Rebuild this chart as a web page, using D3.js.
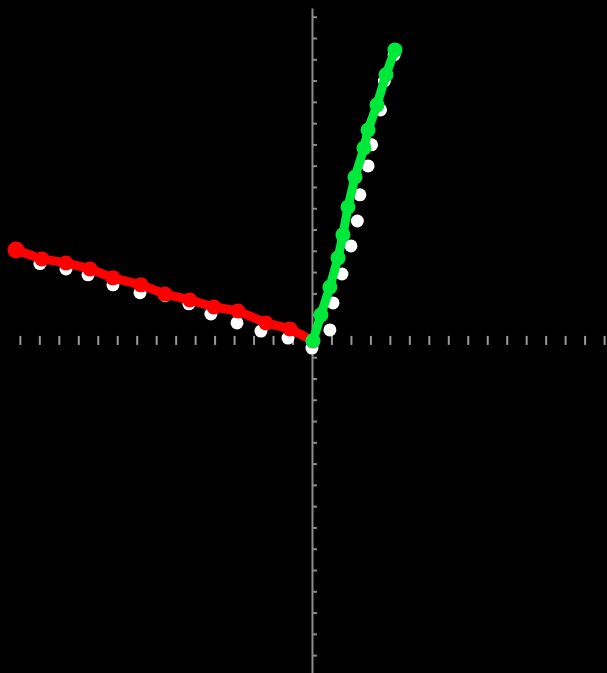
<!DOCTYPE html>
<html>
<head>
<meta charset="utf-8">
<script src="https://cdn.jsdelivr.net/npm/d3@7"></script>
<style>
    html, body { margin: 0; padding: 0; background: #000; }
    svg { display: block; }
</style>
</head>
<body>
<svg id="chart"></svg>
<script>
// красная серия (маркеры + линия)
let redX = [-15.20, -13.87, -12.63, -11.40, -10.22, -8.78, -7.55, -6.27, -5.03, -3.80, -2.36, -1.13, 0.05];
let redY = [4.04, 3.62, 3.43, 3.15, 2.73, 2.40, 1.97, 1.69, 1.36, 1.17, 0.61, 0.33, -0.23];
// белые точки под красной линией
let redRawX = [-13.97, -12.63, -11.50, -10.22, -8.83, -7.55, -6.32, -5.19, -3.85, -2.62, -1.23, 0.00];
let redRawY = [3.40, 3.15, 2.87, 2.40, 2.03, 1.90, 1.51, 1.03, 0.61, 0.23, -0.10, -0.57];

// зеленая серия
let greenX = [0.05, 0.46, 0.92, 1.34, 1.59, 1.85, 2.21, 2.67, 2.88, 3.34, 3.80, 4.26];
let greenY = [-0.23, 0.99, 2.30, 3.67, 4.75, 6.06, 7.47, 8.83, 9.68, 10.86, 12.27, 13.44];
// белые точки рядом с зеленой линией
let greenRawX = [0.92, 1.08, 1.54, 2.00, 2.33, 2.46, 2.88, 3.06, 3.52, 3.72, 4.22];
let greenRawY = [0.28, 1.55, 2.91, 4.23, 5.40, 6.63, 7.99, 8.98, 10.62, 11.98, 13.20];

// деления осей
let xTicks = d3.range(-15, 16);
let yTicks = d3.range(-15, 16);

const svgWidth = 607;
const svgHeight = 673;

let svg = d3.select("#chart")
    .attr("width", svgWidth)
    .attr("height", svgHeight);

svg.append("rect")
    .attr("width", svgWidth)
    .attr("height", svgHeight)
    .attr("fill", "#000");

let x = d3.scaleLinear()
    .domain([-16.02, 15.15])
    .range([0, svgWidth]);

let y = d3.scaleLinear()
    .domain([-15.84, 15.41])
    .range([svgHeight, 8]);

// ось X — только короткие штрихи вниз
let xAxis = svg.append("g")
    .attr("transform", "translate(0," + y(0) + ")")
    .call(d3.axisBottom(x).tickValues(xTicks).tickSize(9).tickFormat(""));
xAxis.select(".domain").remove();
xAxis.selectAll("line")
    .attr("stroke", "#9a9a9a")
    .attr("stroke-width", 2);

// ось Y — сплошная линия и штрихи вправо
let yAxis = svg.append("g")
    .attr("transform", "translate(" + x(0) + ",0)")
    .call(d3.axisRight(y).tickValues(yTicks).tickSize(5).tickSizeOuter(0).tickFormat(""));
yAxis.select(".domain")
    .attr("stroke", "#8c8c8c")
    .attr("stroke-width", 2);
yAxis.selectAll("line")
    .attr("stroke", "#8c8c8c")
    .attr("stroke-width", 2);

let line = d3.line()
    .x(function (d) { return x(d[0]); })
    .y(function (d) { return y(d[1]); });

function drawSeries(xs, ys, rawXs, rawYs, color) {
    let pts = d3.zip(xs, ys);
    let raw = d3.zip(rawXs, rawYs);

    svg.append("g")
        .selectAll("circle")
        .data(raw)
        .enter()
        .append("circle")
        .attr("cx", function (d) { return x(d[0]); })
        .attr("cy", function (d) { return y(d[1]); })
        .attr("r", 6.5)
        .attr("fill", "#fff");

    svg.append("path")
        .datum(pts)
        .attr("d", line)
        .attr("fill", "none")
        .attr("stroke", color)
        .attr("stroke-width", 9)
        .attr("stroke-linejoin", "round");

    svg.append("g")
        .selectAll("circle")
        .data(pts)
        .enter()
        .append("circle")
        .attr("cx", function (d) { return x(d[0]); })
        .attr("cy", function (d) { return y(d[1]); })
        .attr("r", function (d, i) { return i === 0 && color === "#ff0000" ? 8.5 : 7.5; })
        .attr("fill", color);
}

drawSeries(redX, redY, redRawX, redRawY, "#ff0000");
drawSeries(greenX, greenY, greenRawX, greenRawY, "#00e83a");
</script>
</body>
</html>
